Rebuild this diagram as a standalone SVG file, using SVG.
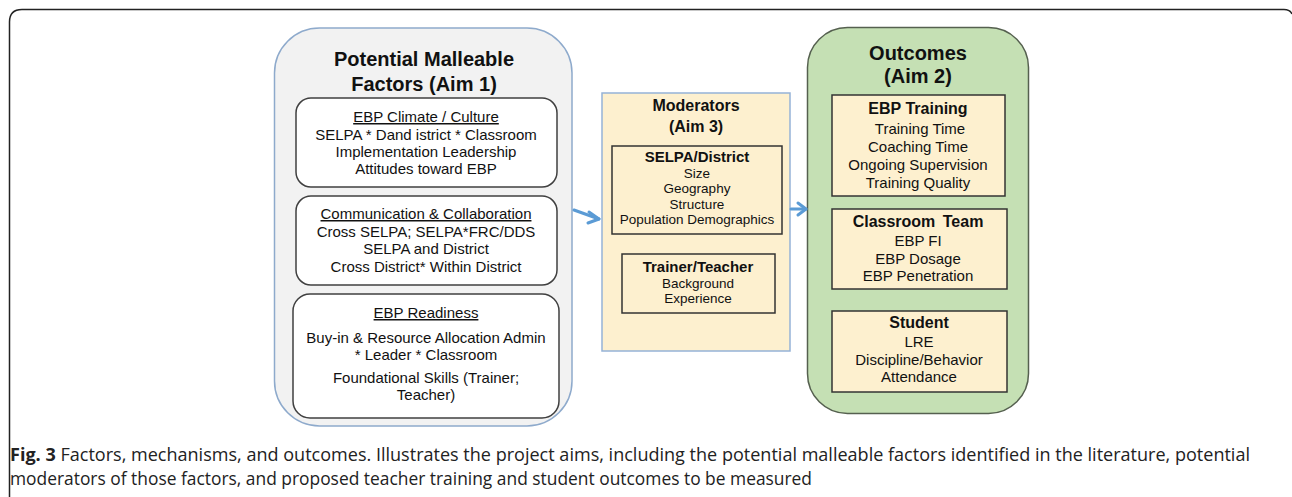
<svg xmlns="http://www.w3.org/2000/svg" width="1292" height="497" viewBox="0 0 1292 497">
<style>
  .t{font-family:"Liberation Sans",Arial,sans-serif;fill:#111;text-anchor:middle}
  .h1{font-size:20px;font-weight:bold}
  .h2{font-size:16px;font-weight:bold}
  .b{font-size:15px}
  .s{font-size:13.5px}
  .u{text-decoration:underline}
  .inner{fill:#ffffff;stroke:#404040;stroke-width:1.5}
  .ybox{fill:#fdf0cf;stroke:#333;stroke-width:1.5}
  .cap{font-family:"Open Sans","Liberation Sans",sans-serif;font-size:18px;fill:#222}
  .arrow{stroke:#5b9bd5;stroke-width:3;fill:none;stroke-linecap:round;stroke-linejoin:round}
</style>
<rect width="1292" height="497" fill="#ffffff"/>
<path d="M9.5,497 V22 Q9.5,9.5 22,9.5 H1284 Q1290,9.5 1292,14" fill="none" stroke="#222" stroke-width="1.5"/>

<g id="factors">
  <rect x="274.5" y="28" width="297.5" height="398" rx="45" fill="#f2f2f2" stroke="#8eaacc" stroke-width="1.5"/>
  <text class="t h1" x="424" y="66">Potential Malleable</text>
  <text class="t h1" x="424" y="91">Factors (Aim 1)</text>
</g>
<g id="climate">
  <rect class="inner" x="296" y="98" width="261" height="89" rx="15"/>
  <text class="t b u" x="426" y="122">EBP Climate / Culture</text>
  <text class="t b" x="426" y="140">SELPA * Dand istrict * Classroom</text>
  <text class="t b" x="426" y="157">Implementation Leadership</text>
  <text class="t b" x="426" y="174">Attitudes toward EBP</text>
</g>
<g id="communication">
  <rect class="inner" x="296" y="196" width="261" height="89" rx="15"/>
  <text class="t b u" x="426" y="219">Communication &amp; Collaboration</text>
  <text class="t b" x="426" y="237">Cross SELPA; SELPA*FRC/DDS</text>
  <text class="t b" x="426" y="254">SELPA and District</text>
  <text class="t b" x="426" y="272">Cross District* Within District</text>
</g>
<g id="readiness">
  <rect class="inner" x="293" y="294" width="266" height="124" rx="17"/>
  <text class="t b u" x="426" y="318">EBP Readiness</text>
  <text class="t b" x="426" y="343">Buy-in &amp; Resource Allocation Admin</text>
  <text class="t b" x="426" y="360">* Leader * Classroom</text>
  <text class="t b" x="426" y="383">Foundational Skills (Trainer;</text>
  <text class="t b" x="426" y="400">Teacher)</text>
</g>

<g id="moderators">
  <rect x="602" y="93" width="188" height="258" fill="#fdf0cf" stroke="#95b3d7" stroke-width="1.5"/>
  <text class="t h2" x="696" y="111">Moderators</text>
  <text class="t h2" x="696" y="132">(Aim 3)</text>
</g>
<g id="selpa">
  <rect x="612" y="146" width="170" height="88" fill="none" stroke="#333" stroke-width="1.5"/>
  <text class="t h2" x="697" y="162" style="font-size:15px">SELPA/District</text>
  <text class="t s" x="697" y="178">Size</text>
  <text class="t s" x="697" y="193">Geography</text>
  <text class="t s" x="697" y="209">Structure</text>
  <text class="t s" x="697" y="224">Population Demographics</text>
</g>
<g id="trainer">
  <rect x="622" y="254" width="153" height="59" fill="none" stroke="#333" stroke-width="1.5"/>
  <text class="t h2" x="698" y="272" style="font-size:15px">Trainer/Teacher</text>
  <text class="t s" x="698" y="288">Background</text>
  <text class="t s" x="698" y="303">Experience</text>
</g>

<g id="outcomes">
  <rect x="807.5" y="27.5" width="221" height="386" rx="40" fill="#c5e0b4" stroke="#55604f" stroke-width="1.5"/>
  <text class="t h1" x="918" y="60">Outcomes</text>
  <text class="t h1" x="918" y="83">(Aim 2)</text>
</g>
<g id="training">
  <rect class="ybox" x="832" y="95" width="173" height="101"/>
  <text class="t h2" x="918" y="114">EBP Training</text>
  <text class="t b" x="920" y="134">Training Time</text>
  <text class="t b" x="918" y="152">Coaching Time</text>
  <text class="t b" x="918" y="170">Ongoing Supervision</text>
  <text class="t b" x="918" y="188">Training Quality</text>
</g>
<g id="classroom">
  <rect class="ybox" x="832" y="209" width="175" height="80"/>
  <text class="t h2" x="918" y="227" style="word-spacing:3px">Classroom Team</text>
  <text class="t b" x="918" y="246">EBP FI</text>
  <text class="t b" x="918" y="264">EBP Dosage</text>
  <text class="t b" x="918" y="281">EBP Penetration</text>
</g>
<g id="student">
  <rect class="ybox" x="832" y="311" width="175" height="81"/>
  <text class="t h2" x="919" y="328">Student</text>
  <text class="t b" x="919" y="347">LRE</text>
  <text class="t b" x="919" y="365">Discipline/Behavior</text>
  <text class="t b" x="919" y="382">Attendance</text>
</g>

<g id="connectors">
  <path class="arrow" d="M574,210 L599,219"/>
  <path class="arrow" d="M589,212 L599,219 L588,223"/>
  <path class="arrow" d="M791,209 L806,209"/>
  <path class="arrow" d="M798,203 L806,209 L798,215"/>
</g>

<g id="caption">
  <text class="cap" x="10" y="461" textLength="1240" lengthAdjust="spacingAndGlyphs"><tspan font-weight="bold">Fig. 3</tspan> Factors, mechanisms, and outcomes. Illustrates the project aims, including the potential malleable factors identified in the literature, potential</text>
  <text class="cap" x="10" y="485" textLength="802" lengthAdjust="spacingAndGlyphs">moderators of those factors, and proposed teacher training and student outcomes to be measured</text>
</g>
</svg>
